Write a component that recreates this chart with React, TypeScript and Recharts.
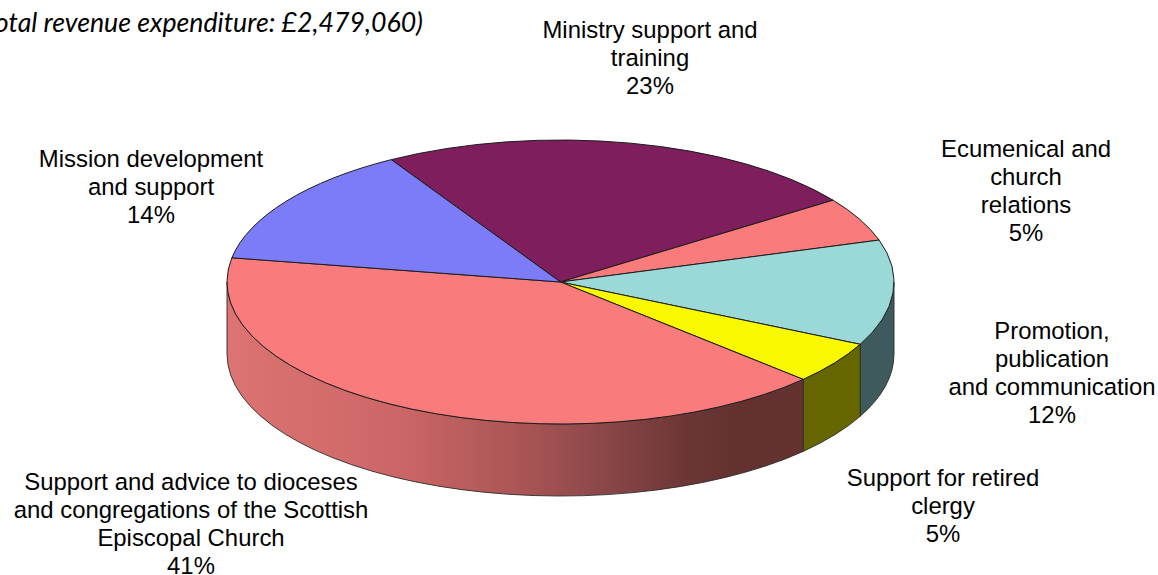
import React from 'react';
import { PieChart, Pie } from 'recharts';

// share of expenditure
const sliceNames = ['Ministry', 'Ecumenical', 'Promotion', 'Retired clergy', 'Support', 'Mission'];
const sliceValues = [23.7, 5.0, 12.0, 4.8, 40.7, 13.8];
const slicePercents = ['23%', '5%', '12%', '5%', '41%', '14%'];
const sliceLabels = [
  ['Ministry support and', 'training'],
  ['Ecumenical and', 'church', 'relations'],
  ['Promotion,', 'publication', 'and communication'],
  ['Support for retired', 'clergy'],
  ['Support and advice to dioceses', 'and congregations of the Scottish', 'Episcopal Church'],
  ['Mission development', 'and support'],
];
const topColors = ['#7E1E5C', '#F97B7B', '#9AD9D8', '#F8F800', '#F97B7B', '#7C7CF8'];
const sideColors = ['#4B1237', '#964A4A', '#3F5A5C', '#666600', 'url(#redWall)', '#4A4A94'];

const tableData = sliceNames.map((name, i) => ({ name, value: sliceValues[i], fill: topColors[i] }));

// layout
const W = 1158;
const H = 575;
const CX = 560.5;
const CY = 282;
const RX = 333.5;
const TILT = 142 / 333.5;
const DEPTH = 72;
const LINE = 28;
const labelFont = '"Liberation Sans", Arial, sans-serif';
const labelSpots = [
  { x: 650, y: 38 },
  { x: 1026, y: 157 },
  { x: 1052, y: 339 },
  { x: 943, y: 486 },
  { x: 191, y: 490 },
  { x: 151, y: 167 },
];

const rad = (a: number) => (a * Math.PI) / 180;

function Slice3D(props: any) {
  const { cx, cy, outerRadius: rx, startAngle, endAngle, index, fill } = props;
  const ry = rx * TILT;
  const pt = (a: number) => [cx + rx * Math.cos(rad(a)), cy - ry * Math.sin(rad(a))];
  const [x1, y1] = pt(startAngle);
  const [x2, y2] = pt(endAngle);
  const large = Math.abs(startAngle - endAngle) > 180 ? 1 : 0;
  const top = `M${cx},${cy} L${x1},${y1} A${rx},${ry} 0 ${large} 1 ${x2},${y2} Z`;

  // only the front half of the rim has a visible wall
  const hi = Math.min(startAngle, 0);
  const lo = Math.max(endAngle, -180);
  let wall = null;
  if (lo < hi) {
    const [wx1, wy1] = pt(hi);
    const [wx2, wy2] = pt(lo);
    const d = `M${wx1},${wy1} A${rx},${ry} 0 0 1 ${wx2},${wy2} L${wx2},${wy2 + DEPTH} A${rx},${ry} 0 0 0 ${wx1},${wy1 + DEPTH} Z`;
    wall = <path d={d} fill={sideColors[index]} stroke="#2b2b2b" strokeWidth={0.9} />;
  }
  return (
    <g>
      {wall}
      <path d={top} fill={fill} stroke="#1c1c1c" strokeWidth={1} />
    </g>
  );
}

function SliceLabel(props: any) {
  const { index } = props;
  const spot = labelSpots[index];
  const lines = [...sliceLabels[index], slicePercents[index]];
  return (
    <text x={spot.x} y={spot.y} textAnchor="middle" fontFamily={labelFont} fontSize={23.9} fill="#000">
      {lines.map((l, i) => (
        <tspan key={i} x={spot.x} y={spot.y + i * LINE}>{l}</tspan>
      ))}
    </text>
  );
}

export default function App() {
  return (
    <div style={{ position: 'absolute', left: 0, top: 0, width: W, height: H, background: '#fff', overflow: 'hidden' }}>
      <PieChart width={W} height={H} margin={{ top: 0, right: 0, bottom: 0, left: 0 }}>
        <defs>
          <linearGradient id="redWall" gradientUnits="userSpaceOnUse" x1={227} y1={0} x2={804} y2={0}>
            <stop offset="0" stopColor="#DD7373" />
            <stop offset="0.3" stopColor="#CC6666" />
            <stop offset="0.52" stopColor="#A85454" />
            <stop offset="0.62" stopColor="#934A4C" />
            <stop offset="0.8" stopColor="#6C3636" />
            <stop offset="0.88" stopColor="#643131" />
            <stop offset="1" stopColor="#653232" />
          </linearGradient>
        </defs>
        <text x={423} y={32} textAnchor="end" fontFamily="Lato, sans-serif" fontStyle="italic" fontSize={26.7} fill="#000">
          (Total revenue expenditure: £2,479,060)
        </text>
        <Pie
          data={tableData}
          dataKey="value"
          nameKey="name"
          cx={CX}
          cy={CY}
          innerRadius={0}
          outerRadius={RX}
          startAngle={120.5}
          endAngle={-239.5}
          paddingAngle={0}
          shape={Slice3D}
          label={SliceLabel}
          labelLine={false}
          isAnimationActive={false}
        />
      </PieChart>
    </div>
  );
}
